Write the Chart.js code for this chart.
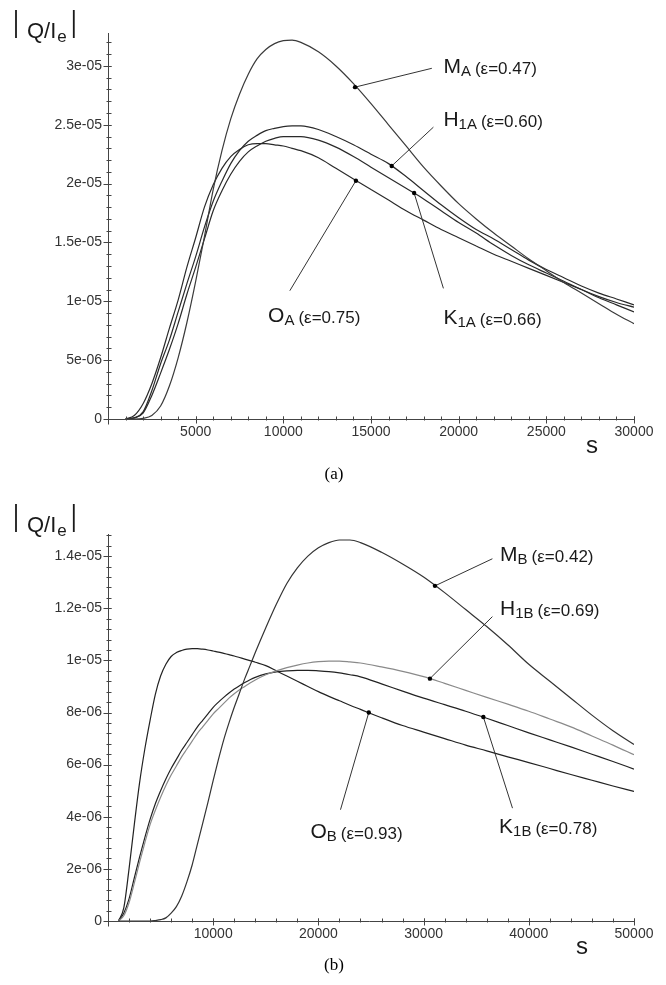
<!DOCTYPE html>
<html>
<head>
<meta charset="utf-8">
<script src="https://cdn.jsdelivr.net/npm/chart.js@4.4.0/dist/chart.umd.min.js"></script>
<style>
  body { margin: 0; background: #fff; }
  canvas { display: block; }
</style>
</head>
<body>
<canvas id="chartA" width="666" height="490"></canvas>
<canvas id="chartB" width="666" height="495"></canvas>
<script>
// values of |Q/Ie| are in units of 1e-6, s along x

// --- panel (a)
const sA = [1000,1500,2000,2500,3000,3500,4000,4500,5000,5500,6000,6500,7000,7500,8000,8500,9000,9500,10000,10500,
            11000,12000,13000,14000,15000,16000,17000,18000,19000,20000,21000,22000,23000,24000,25000,26000,27000,28000,29000,30000];
const mA  = [0,0,0.05,0.3,1.1,2.8,5.2,8.2,11.7,15.5,19.5,22.8,25.5,27.6,29.3,30.6,31.4,31.9,32.15,32.2,
             32.0,31.2,30.0,28.5,26.8,25.0,23.2,21.4,19.8,18.3,17.0,15.8,14.7,13.6,12.6,11.6,10.7,9.8,8.9,8.1];
const h1A = [0,0.1,0.6,2.4,4.7,6.7,9.1,11.5,13.8,16.3,18.5,20.2,21.7,22.8,23.6,24.1,24.5,24.7,24.85,24.9,
             24.9,24.6,24.0,23.3,22.5,21.7,20.6,19.4,18.2,17.1,16.1,15.3,14.4,13.5,12.7,12.0,11.3,10.7,10.2,9.7];
const k1A = [0,0.1,0.5,2.0,3.9,5.9,8.1,10.6,12.9,15.3,17.7,19.4,20.8,21.9,22.7,23.2,23.6,23.85,24.0,24.0,
             24.0,23.7,23.1,22.3,21.4,20.5,19.6,18.7,17.7,16.7,15.8,14.8,13.9,13.1,12.4,11.7,11.0,10.4,9.9,9.5];
const oA  = [0,0.3,1.3,3.0,5.2,7.7,10.1,12.9,15.4,18.0,19.9,21.3,22.3,22.9,23.3,23.4,23.4,23.3,23.2,23.0,
             22.8,22.2,21.3,20.4,19.5,18.6,17.7,16.9,16.1,15.4,14.7,14.0,13.4,12.8,12.2,11.6,11.0,10.3,9.7,9.1];
const xTicksA = [5000,10000,15000,20000,25000,30000];
const xLabelsA = ['5000','10000','15000','20000','25000','30000'];
const yTicksA = [0,5,10,15,20,25,30];
const yLabelsA = ['0','5e-06','1e-05','1.5e-05','2e-05','2.5e-05','3e-05'];
const notesA = [
  {name:'M', sub:'A',  eps:'0.47', dot:[14090,28.2],  end:[18470,29.8], at:[19130,29.4]},
  {name:'H', sub:'1A', eps:'0.60', dot:[16180,21.5],  end:[18560,24.8], at:[19130,24.9]},
  {name:'O', sub:'A',  eps:'0.75', dot:[14140,20.25], end:[10370,10.9], at:[9130,8.25]},
  {name:'K', sub:'1A', eps:'0.66', dot:[17460,19.2],  end:[19130,11.1], at:[19130,8.1]}
];

// --- panel (b)
const sB = [1000,1500,2000,2500,3000,3500,4000,4500,5000,5500,6000,6500,7000,7500,8000,8500,9000,9500,10000,10500,
            11000,11500,12000,12500,13000,13500,14000,15000,16000,17000,18000,19000,20000,21000,22000,23000,24000,
            26000,28000,30000,32000,34000,36000,38000,40000,42000,44000,46000,48000,50000];
const mB  = [0,0,0,0,0,0,0,0.02,0.05,0.12,0.3,0.55,0.95,1.5,2.15,2.95,3.75,4.55,5.4,6.2,
             6.95,7.6,8.2,8.75,9.3,9.8,10.3,11.25,12.15,12.95,13.55,14.0,14.32,14.52,14.62,14.62,14.52,
             14.15,13.7,13.2,12.6,11.95,11.3,10.6,9.85,9.2,8.55,7.9,7.3,6.77];
const h1B = [0,0.2,0.7,1.45,2.25,3.0,3.7,4.25,4.75,5.2,5.6,5.95,6.3,6.6,6.9,7.2,7.45,7.7,7.95,8.15,
             8.35,8.55,8.72,8.87,9.0,9.13,9.25,9.45,9.6,9.72,9.82,9.9,9.95,9.97,9.97,9.94,9.9,
             9.75,9.58,9.38,9.12,8.85,8.58,8.32,8.05,7.75,7.45,7.1,6.75,6.38];
const k1B = [0,0.3,0.85,1.65,2.45,3.2,3.9,4.5,5.0,5.45,5.85,6.2,6.55,6.85,7.15,7.45,7.7,7.95,8.2,8.4,
             8.58,8.75,8.9,9.03,9.15,9.26,9.35,9.48,9.56,9.6,9.62,9.62,9.6,9.57,9.52,9.45,9.37,
             9.1,8.82,8.55,8.3,8.05,7.78,7.5,7.22,6.95,6.68,6.4,6.12,5.83];
const oB  = [0,0.5,2.0,3.7,5.3,6.6,7.7,8.7,9.4,9.85,10.15,10.3,10.38,10.43,10.45,10.45,10.43,10.4,10.36,10.32,
             10.27,10.22,10.17,10.11,10.05,9.99,9.93,9.8,9.6,9.4,9.2,9.0,8.8,8.62,8.45,8.28,8.12,
             7.8,7.5,7.25,7.0,6.75,6.53,6.3,6.08,5.85,5.62,5.4,5.18,4.97];
const xTicksB = [10000,20000,30000,40000,50000];
const xLabelsB = ['10000','20000','30000','40000','50000'];
const yTicksB = [0,2,4,6,8,10,12,14];
const yLabelsB = ['0','2e-06','4e-06','6e-06','8e-06','1e-05','1.2e-05','1.4e-05'];
const notesB = [
  {name:'M', sub:'B',  eps:'0.42', dot:[31080,12.86], end:[36540,13.9],  at:[37270,13.82]},
  {name:'H', sub:'1B', eps:'0.69', dot:[30600,9.3],   end:[36540,11.68], at:[37270,11.73]},
  {name:'O', sub:'B',  eps:'0.93', dot:[24790,8.0],   end:[22100,4.27],  at:[19240,3.19]},
  {name:'K', sub:'1B', eps:'0.78', dot:[35680,7.83],  end:[38450,4.33],  at:[37170,3.38]}
];

const FONT = '"Liberation Sans", Arial, sans-serif';

function series(xs, ys, color) {
  return {
    data: xs.map((x, i) => ({x: x, y: ys[i]})),
    borderColor: color,
    borderWidth: 1.2,
    pointRadius: 0,
    fill: false,
    cubicInterpolationMode: 'monotone'
  };
}

function drawLabel(ctx, x, y, n) {
  ctx.fillStyle = '#1a1a1a';
  ctx.textAlign = 'left';
  ctx.textBaseline = 'alphabetic';
  ctx.font = '21px ' + FONT;
  ctx.fillText(n.name, x, y);
  let w = ctx.measureText(n.name).width;
  ctx.font = '15px ' + FONT;
  ctx.fillText(n.sub, x + w, y + 3);
  w += ctx.measureText(n.sub).width + 4;
  ctx.font = '17px ' + FONT;
  ctx.fillText('(\u03b5=' + n.eps + ')', x + w, y + 1);
}

function makeDecor(cfg) {
  return {
    id: 'decor',
    afterDraw(chart) {
      const ctx = chart.ctx, a = chart.chartArea;
      const xs = chart.scales.x, ys = chart.scales.y;
      const L = Math.round(a.left) + 0.5, B = Math.round(a.bottom) + 0.5;
      ctx.save();

      // axes, minor and major ticks
      ctx.strokeStyle = '#444';
      ctx.lineWidth = 1;
      ctx.beginPath();
      ctx.moveTo(L - 3, B); ctx.lineTo(a.right, B);
      ctx.moveTo(L, a.top); ctx.lineTo(L, B + 5);
      for (let v = cfg.xMinor; v <= xs.max + 1; v += cfg.xMinor) {
        const p = Math.round(xs.getPixelForValue(v)) + 0.5;
        ctx.moveTo(p, B - 3); ctx.lineTo(p, B + 1);
      }
      for (let v = cfg.yMinor; v <= ys.max; v += cfg.yMinor) {
        const p = Math.round(ys.getPixelForValue(v)) + 0.5;
        ctx.moveTo(L - 2, p); ctx.lineTo(L + 3, p);
      }
      xs.ticks.forEach(t => {
        const p = Math.round(xs.getPixelForValue(t.value)) + 0.5;
        ctx.moveTo(p, B - 3); ctx.lineTo(p, B + 4);
      });
      ys.ticks.forEach(t => {
        const p = Math.round(ys.getPixelForValue(t.value)) + 0.5;
        ctx.moveTo(L - 5, p); ctx.lineTo(L + 3, p);
      });
      ctx.stroke();

      // leader lines, dots, curve names
      cfg.notes.forEach(n => {
        const dx = xs.getPixelForValue(n.dot[0]), dy = ys.getPixelForValue(n.dot[1]);
        const ex = xs.getPixelForValue(n.end[0]), ey = ys.getPixelForValue(n.end[1]);
        ctx.strokeStyle = '#333';
        ctx.lineWidth = 1;
        ctx.beginPath(); ctx.moveTo(dx, dy); ctx.lineTo(ex, ey); ctx.stroke();
        ctx.fillStyle = '#000';
        ctx.beginPath(); ctx.arc(dx, dy, 2.2, 0, 2 * Math.PI); ctx.fill();
        drawLabel(ctx, xs.getPixelForValue(n.at[0]), ys.getPixelForValue(n.at[1]), n);
      });

      // |Q/Ie| title
      const qx = cfg.q[0], qy = cfg.q[1];
      ctx.fillStyle = '#1a1a1a';
      ctx.textAlign = 'left';
      ctx.textBaseline = 'alphabetic';
      ctx.font = '22px ' + FONT;
      ctx.fillText('Q/I', qx + 12, qy);
      let w = qx + 12 + ctx.measureText('Q/I').width + 1;
      ctx.font = '17px ' + FONT;
      ctx.fillText('e', w, qy + 4);
      w += ctx.measureText('e').width + 7;
      ctx.strokeStyle = '#1a1a1a';
      ctx.lineWidth = 1.8;
      ctx.beginPath();
      ctx.moveTo(qx + 1, qy - 28); ctx.lineTo(qx + 1, qy);
      ctx.moveTo(w, qy - 28); ctx.lineTo(w, qy);
      ctx.stroke();

      // s title
      ctx.textAlign = 'center';
      ctx.textBaseline = 'middle';
      ctx.font = '24px ' + FONT;
      ctx.fillText('s', cfg.s[0], cfg.s[1]);

      // caption
      ctx.font = '17px "Liberation Serif", "Times New Roman", serif';
      ctx.fillStyle = '#000';
      ctx.fillText(cfg.cap, cfg.capAt[0], cfg.capAt[1]);
      ctx.restore();
    }
  };
}

function makeChart(id, cfg) {
  const tickFont = {family: FONT, size: 14};
  return new Chart(document.getElementById(id), {
    type: 'line',
    data: {datasets: cfg.datasets},
    options: {
      responsive: false,
      animation: false,
      layout: {padding: {left: 0, right: 32, top: cfg.top, bottom: 0}},
      plugins: {legend: {display: false}, tooltip: {enabled: false}},
      scales: {
        x: {
          type: 'linear', min: 0, max: cfg.xMax,
          grid: {display: false, drawTicks: false},
          border: {display: false},
          afterBuildTicks: s => { s.ticks = cfg.xTicks.map(v => ({value: v})); },
          afterFit: s => { s.height = cfg.xHeight; },
          ticks: {autoSkip: false, maxRotation: 0, padding: 5, color: '#333', font: tickFont,
                  callback: (v, i) => cfg.xLabels[i]}
        },
        y: {
          type: 'linear', min: 0, max: cfg.yMax,
          grid: {display: false, drawTicks: false},
          border: {display: false},
          afterBuildTicks: s => { s.ticks = cfg.yTicks.map(v => ({value: v})); },
          afterFit: s => { s.width = 108; },
          ticks: {autoSkip: false, padding: 6, color: '#333', font: tickFont,
                  callback: (v, i) => cfg.yLabels[i]}
        }
      }
    },
    plugins: [makeDecor(cfg)]
  });
}

makeChart('chartA', {
  datasets: [series(sA, mA, '#3a3a3a'), series(sA, h1A, '#2a2a2a'), series(sA, k1A, '#2a2a2a'), series(sA, oA, '#2a2a2a')],
  top: 33, xHeight: 71, xMax: 30000, yMax: 32.8,
  xTicks: xTicksA, xLabels: xLabelsA, yTicks: yTicksA, yLabels: yLabelsA,
  xMinor: 1000, yMinor: 1, notes: notesA,
  q: [15, 38], s: [592, 446], cap: '(a)', capAt: [334, 475]
});

makeChart('chartB', {
  datasets: [series(sB, mB, '#333'), series(sB, h1B, '#8a8a8a'), series(sB, k1B, '#222'), series(sB, oB, '#222')],
  top: 44, xHeight: 64, xMax: 50000, yMax: 14.85,
  xTicks: xTicksB, xLabels: xLabelsB, yTicks: yTicksB, yLabels: yLabelsB,
  xMinor: 2000, yMinor: 0.4, notes: notesB,
  q: [15, 42], s: [582, 457], cap: '(b)', capAt: [334, 476]
});
</script>
</body>
</html>
